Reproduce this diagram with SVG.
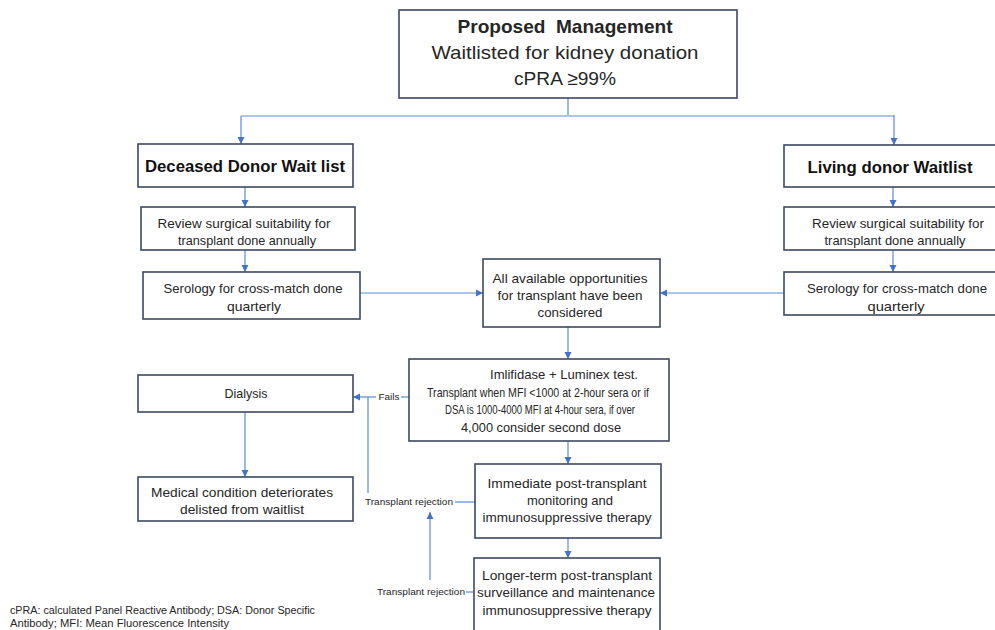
<svg xmlns="http://www.w3.org/2000/svg" width="995" height="630" viewBox="0 0 995 630">
<defs>
<marker id="ah" markerWidth="8" markerHeight="8" refX="7" refY="4" orient="auto" markerUnits="userSpaceOnUse">
<path d="M0,0.5 L7,4 L0,7.5 Z" fill="#4472c4"/>
</marker>
<style>
.box{fill:#fff;stroke:#3b4a60;stroke-width:1.6}
.c{fill:none;stroke:#5b8bd6;stroke-width:1.2}
.ca{fill:none;stroke:#5b8bd6;stroke-width:1.2;marker-end:url(#ah)}
text{font-family:"Liberation Sans",Arial,sans-serif;fill:#262626;text-anchor:middle;white-space:pre}
.t{font-size:13px}
.b{font-weight:bold;font-size:17px;fill:#111}
.h{font-size:19px}
.s{font-size:9px}
.f{font-size:10px;text-anchor:start}
</style>
</defs>
<rect width="995" height="630" fill="#fff"/>

<g id="connectors">
<path class="c" d="M568,98 V115 M241,116 H894"/>
<path class="ca" d="M241,116 V144"/>
<path class="ca" d="M894,115 V145"/>
<path class="ca" d="M245,187 V207"/>
<path class="ca" d="M245,250 V272"/>
<path class="ca" d="M893,187 V207"/>
<path class="ca" d="M893,250 V272"/>
<path class="ca" d="M360,293 H483"/>
<path class="ca" d="M784,293 H660"/>
<path class="ca" d="M568,327 V359"/>
<path class="ca" d="M568,441 V464"/>
<path class="ca" d="M568,538 V558"/>
<path class="ca" d="M245,412 V477"/>
<path class="c" d="M409,397 H401"/>
<path class="ca" d="M376,397 H353"/>
<path class="c" d="M368,397 V493"/>
<path class="c" d="M455,502 H475"/>
<path class="ca" d="M430,580 V512"/>
<path class="c" d="M466,592 H474"/>
<path class="c" d="M623,434 H636"/>
<text class="s" x="389" y="400" textLength="21" lengthAdjust="spacingAndGlyphs">Fails</text>
<text class="s" x="409" y="505" textLength="88" lengthAdjust="spacingAndGlyphs">Transplant rejection</text>
<text class="s" x="421" y="595" textLength="88" lengthAdjust="spacingAndGlyphs">Transplant rejection</text>
</g>

<g id="top">
<rect class="box" x="399" y="10" width="338" height="88"/>
<text class="h" x="565" y="33" font-weight="bold" textLength="215" lengthAdjust="spacingAndGlyphs" fill="#111" xml:space="preserve">Proposed  Management</text>
<text class="h" x="565" y="59" textLength="267" lengthAdjust="spacingAndGlyphs">Waitlisted for kidney donation</text>
<text class="h" x="565" y="85" textLength="102" lengthAdjust="spacingAndGlyphs">cPRA ≥99%</text>
</g>

<g id="deceased">
<rect class="box" x="138" y="144" width="215" height="43"/>
<text class="b" x="245" y="172" textLength="200" lengthAdjust="spacingAndGlyphs">Deceased Donor Wait list</text>
</g>

<g id="living">
<rect class="box" x="784" y="145" width="214" height="42"/>
<text class="b" x="890" y="173" textLength="165" lengthAdjust="spacingAndGlyphs">Living donor Waitlist</text>
</g>

<g id="review-left">
<rect class="box" x="141" y="207" width="214" height="43"/>
<text class="t" x="244" y="228" textLength="173" lengthAdjust="spacingAndGlyphs">Review surgical suitability for</text>
<text class="t" x="247" y="245" textLength="138" lengthAdjust="spacingAndGlyphs">transplant done annually</text>
</g>

<g id="review-right">
<rect class="box" x="784" y="207" width="214" height="43"/>
<text class="t" x="898" y="228" textLength="172" lengthAdjust="spacingAndGlyphs">Review surgical suitability for</text>
<text class="t" x="895" y="245" textLength="141" lengthAdjust="spacingAndGlyphs">transplant done annually</text>
</g>

<g id="serology-left">
<rect class="box" x="143" y="272" width="217" height="47"/>
<text class="t" x="253" y="293" textLength="179" lengthAdjust="spacingAndGlyphs">Serology for cross-match done</text>
<text class="t" x="254" y="311" textLength="54" lengthAdjust="spacingAndGlyphs">quarterly</text>
</g>

<g id="serology-right">
<rect class="box" x="784" y="272" width="214" height="43"/>
<text class="t" x="897" y="293" textLength="180" lengthAdjust="spacingAndGlyphs">Serology for cross-match done</text>
<text class="t" x="896" y="311" textLength="57" lengthAdjust="spacingAndGlyphs">quarterly</text>
</g>

<g id="considered">
<rect class="box" x="483" y="259" width="177" height="68"/>
<text class="t" x="570" y="283" textLength="155" lengthAdjust="spacingAndGlyphs">All available opportunities</text>
<text class="t" x="570" y="300" textLength="145" lengthAdjust="spacingAndGlyphs">for transplant have been</text>
<text class="t" x="570" y="317" textLength="65" lengthAdjust="spacingAndGlyphs">considered</text>
</g>

<g id="imlifidase">
<rect class="box" x="409" y="359" width="260" height="82"/>
<text class="t" x="564" y="379" textLength="148" lengthAdjust="spacingAndGlyphs">Imlifidase + Luminex test.</text>
<text class="t" x="538" y="397" textLength="222" lengthAdjust="spacingAndGlyphs">Transplant when MFI &lt;1000 at 2-hour sera or if</text>
<text class="t" x="540" y="414" textLength="190" lengthAdjust="spacingAndGlyphs">DSA is 1000-4000 MFI at 4-hour sera, if over</text>
<text class="t" x="541" y="432" textLength="160" lengthAdjust="spacingAndGlyphs">4,000 consider second dose</text>
</g>

<g id="dialysis">
<rect class="box" x="138" y="375" width="215" height="37"/>
<text class="t" x="246" y="398" textLength="43" lengthAdjust="spacingAndGlyphs">Dialysis</text>
</g>

<g id="delisted">
<rect class="box" x="138" y="477" width="215" height="44"/>
<text class="t" x="242" y="497" textLength="182" lengthAdjust="spacingAndGlyphs">Medical condition deteriorates</text>
<text class="t" x="242" y="514" textLength="124" lengthAdjust="spacingAndGlyphs">delisted from waitlist</text>
</g>

<g id="immediate">
<rect class="box" x="475" y="464" width="186" height="74"/>
<text class="t" x="567" y="488" textLength="159" lengthAdjust="spacingAndGlyphs">Immediate post-transplant</text>
<text class="t" x="570" y="505" textLength="86" lengthAdjust="spacingAndGlyphs">monitoring and</text>
<text class="t" x="567" y="522" textLength="169" lengthAdjust="spacingAndGlyphs">immunosuppressive therapy</text>
</g>

<g id="longer">
<rect class="box" x="474" y="558" width="186" height="80"/>
<text class="t" x="567" y="580" textLength="170" lengthAdjust="spacingAndGlyphs">Longer-term post-transplant</text>
<text class="t" x="566" y="597" textLength="178" lengthAdjust="spacingAndGlyphs">surveillance and maintenance</text>
<text class="t" x="567" y="615" textLength="169" lengthAdjust="spacingAndGlyphs">immunosuppressive therapy</text>
</g>

<g id="footnote">
<text class="f" x="10" y="614" textLength="305" lengthAdjust="spacingAndGlyphs">cPRA: calculated Panel Reactive Antibody; DSA: Donor Specific</text>
<text class="f" x="10" y="627" textLength="219" lengthAdjust="spacingAndGlyphs">Antibody; MFI: Mean Fluorescence Intensity</text>
</g>
</svg>
